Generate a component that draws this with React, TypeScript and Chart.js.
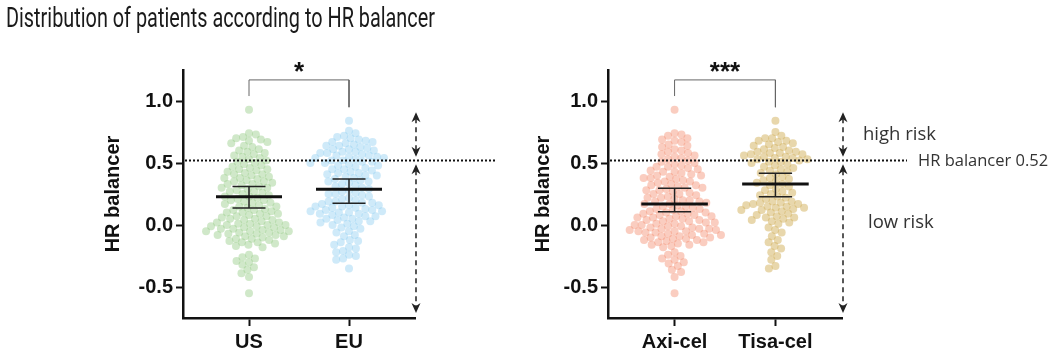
import React, { useEffect, useRef } from 'react';
import { Chart, registerables } from 'chart.js';
Chart.register(...registerables);

const TITLE = 'Distribution of patients according to HR balancer';
const Y_TITLE = 'HR balancer';
const THRESHOLD = 0.52;
const THRESHOLD_LABEL = 'HR balancer 0.52';
const RISK_LABELS = ['high risk', 'low risk'];
const Y_TICKS = [-0.5, 0, 0.5, 1.0];
const Y_MIN = -0.75;
const Y_MAX = 1.25;

const leftCategories = ['US', 'EU'];
const rightCategories = ['Axi-cel', 'Tisa-cel'];

const usValues = [
  0.93,
  0.74, 0.73, 0.71, 0.70,
  0.69, 0.68, 0.67, 0.66, 0.64, 0.63, 0.61, 0.60,
  0.59, 0.58, 0.57, 0.56, 0.55, 0.54, 0.53, 0.52, 0.51, 0.50,
  0.49, 0.48, 0.47, 0.46, 0.45, 0.45, 0.44, 0.43, 0.42, 0.41, 0.41, 0.40,
  0.39, 0.38, 0.38, 0.37, 0.36, 0.35, 0.35, 0.34, 0.33, 0.33, 0.32, 0.31, 0.30, 0.30,
  0.29, 0.28, 0.27, 0.27, 0.26, 0.25, 0.24, 0.23, 0.23, 0.22, 0.21, 0.20, 0.20,
  0.19, 0.18, 0.18, 0.17, 0.16, 0.15, 0.15, 0.14, 0.13, 0.12, 0.12, 0.11, 0.10, 0.10,
  0.09, 0.09, 0.08, 0.07, 0.07, 0.06, 0.05, 0.05, 0.04, 0.04, 0.03, 0.02, 0.02, 0.01, 0.01, 0.00, 0.00, 0.00,
  -0.01, -0.01, -0.02, -0.02, -0.03, -0.03, -0.04, -0.04, -0.05, -0.05, -0.05, -0.06, -0.06, -0.07, -0.07, -0.08, -0.08, -0.09, -0.09, -0.10,
  -0.11, -0.11, -0.12, -0.13, -0.14, -0.14, -0.15, -0.16, -0.17, -0.18,
  -0.24, -0.26, -0.27, -0.29, -0.30, -0.32, -0.34, -0.36, -0.39, -0.42,
  -0.55,
];

const euValues = [
  0.84,
  0.76, 0.74, 0.72, 0.71, 0.70,
  0.69, 0.68, 0.67, 0.67, 0.66, 0.65, 0.64, 0.64, 0.63, 0.62, 0.61, 0.61, 0.60,
  0.59, 0.59, 0.58, 0.58, 0.57, 0.56, 0.56, 0.55, 0.55, 0.54, 0.54, 0.53, 0.52, 0.52, 0.51, 0.51, 0.50, 0.50,
  0.49, 0.48, 0.48, 0.47, 0.46, 0.45, 0.45, 0.44, 0.43, 0.42, 0.42, 0.41, 0.40, 0.40,
  0.39, 0.38, 0.37, 0.36, 0.35, 0.35, 0.34, 0.33, 0.32, 0.31, 0.30,
  0.29, 0.28, 0.27, 0.26, 0.25, 0.25, 0.24, 0.23, 0.22, 0.21, 0.20,
  0.19, 0.19, 0.18, 0.18, 0.17, 0.16, 0.16, 0.15, 0.15, 0.14, 0.14, 0.13, 0.12, 0.12, 0.11, 0.11, 0.10, 0.10,
  0.09, 0.09, 0.08, 0.07, 0.07, 0.06, 0.05, 0.05, 0.04, 0.03, 0.03, 0.02, 0.01, 0.00,
  -0.01, -0.02, -0.03, -0.05, -0.06, -0.08, -0.09,
  -0.12, -0.13, -0.14, -0.16, -0.18, -0.19,
  -0.21, -0.22, -0.24, -0.25, -0.27, -0.28,
  -0.35,
];

const axiValues = [
  0.93,
  0.74, 0.73, 0.72, 0.70,
  0.69, 0.68, 0.67, 0.65, 0.64, 0.63, 0.61, 0.60,
  0.59, 0.58, 0.57, 0.56, 0.55, 0.54, 0.53, 0.52, 0.51, 0.50,
  0.49, 0.48, 0.47, 0.47, 0.46, 0.45, 0.44, 0.43, 0.43, 0.42, 0.41, 0.40, 0.40,
  0.39, 0.38, 0.38, 0.37, 0.36, 0.35, 0.35, 0.34, 0.33, 0.32, 0.32, 0.31, 0.30, 0.30,
  0.29, 0.28, 0.28, 0.27, 0.26, 0.25, 0.25, 0.24, 0.23, 0.22, 0.22, 0.21, 0.20, 0.20,
  0.19, 0.19, 0.18, 0.17, 0.17, 0.16, 0.15, 0.15, 0.14, 0.13, 0.13, 0.12, 0.11, 0.11, 0.10, 0.10,
  0.09, 0.09, 0.08, 0.08, 0.07, 0.07, 0.06, 0.06, 0.05, 0.05, 0.04, 0.04, 0.03, 0.03, 0.02, 0.02, 0.01, 0.01, 0.00, 0.00,
  -0.01, -0.01, -0.02, -0.02, -0.03, -0.03, -0.03, -0.04, -0.04, -0.05, -0.05, -0.05, -0.06, -0.06, -0.07, -0.07, -0.08, -0.08, -0.09, -0.09, -0.10, -0.10,
  -0.11, -0.11, -0.12, -0.12, -0.13, -0.14, -0.14, -0.15, -0.16, -0.16, -0.17, -0.18,
  -0.22, -0.24, -0.25, -0.27, -0.28, -0.30, -0.31, -0.33, -0.36, -0.38, -0.42,
  -0.55,
];

const tisaValues = [
  0.84,
  0.75, 0.72, 0.70, 0.70,
  0.68, 0.68, 0.67, 0.66, 0.65, 0.64, 0.63, 0.62, 0.61, 0.60,
  0.59, 0.59, 0.58, 0.58, 0.57, 0.57, 0.56, 0.55, 0.55, 0.54, 0.54, 0.53, 0.53, 0.52, 0.51, 0.51, 0.50,
  0.49, 0.48, 0.47, 0.46, 0.45, 0.44, 0.43, 0.42, 0.41,
  0.39, 0.38, 0.37, 0.36, 0.35, 0.34, 0.33, 0.32, 0.31,
  0.29, 0.28, 0.27, 0.26, 0.25, 0.24, 0.23, 0.22, 0.21,
  0.19, 0.19, 0.18, 0.18, 0.17, 0.17, 0.16, 0.15, 0.15, 0.14, 0.14, 0.13, 0.12, 0.12, 0.11, 0.10,
  0.09, 0.08, 0.07, 0.06, 0.06, 0.05, 0.04, 0.03, 0.02, 0.01,
  -0.02, -0.04, -0.06, -0.09,
  -0.12, -0.14, -0.17, -0.19,
  -0.22, -0.25, -0.28,
  -0.33, -0.35,
];

const leftMeans = [0.228, 0.288];
const leftLow = [0.137, 0.175];
const leftHigh = [0.31, 0.37];
const rightMeans = [0.169, 0.33];
const rightLow = [0.107, 0.228];
const rightHigh = [0.296, 0.417];

const leftStars = '*';
const rightStars = '***';
const BRACKET_TOP = 1.17;
const BRACKET_LEGS = [1.04, 0.95];
const UPPER_ARROW = [0.91, 0.55];
const LOWER_ARROW = [0.49, -0.71];
const LOW_RISK_AT = 0.02;

const FONT = '"Liberation Sans", Arial, sans-serif';

function beeswarm(ypx: number[], D: number): number[] {
  const order = ypx.map((_, i) => i).sort((a, b) => ypx[a] - ypx[b]);
  const placed: { x: number; y: number }[] = [];
  const out: number[] = new Array(ypx.length).fill(0);
  order.forEach((idx, k) => {
    const y = ypx[idx];
    const cands = [0];
    for (const p of placed) {
      const dy = Math.abs(p.y - y);
      if (dy < D) {
        const o = Math.sqrt(D * D - dy * dy);
        cands.push(p.x + o, p.x - o);
      }
    }
    cands.sort((a, b) => Math.abs(a) - Math.abs(b) || (k % 2 ? a - b : b - a));
    let best = 0;
    for (const c of cands) {
      if (placed.every((p) => (p.x - c) ** 2 + (p.y - y) ** 2 >= D * D - 0.01)) {
        best = c;
        break;
      }
    }
    placed.push({ x: best, y });
    out[idx] = best;
  });
  return out;
}

function lineDs(data: { x: number; y: number }[], color: string, width: number) {
  return {
    type: 'scatter',
    data,
    showLine: true,
    pointRadius: 0,
    borderColor: color,
    borderWidth: width,
    backgroundColor: color,
    fill: false,
    order: 0,
    borderCapStyle: 'butt',
  };
}

function arrowHead(ctx: CanvasRenderingContext2D, x: number, y: number, dir: number) {
  ctx.beginPath();
  ctx.moveTo(x, y);
  ctx.lineTo(x - 4.5, y - dir * 10);
  ctx.lineTo(x, y - dir * 7);
  ctx.lineTo(x + 4.5, y - dir * 10);
  ctx.closePath();
  ctx.fill();
}

function dashedArrow(ctx: CanvasRenderingContext2D, x: number, y1: number, y2: number) {
  ctx.save();
  ctx.setLineDash([5, 4]);
  ctx.lineWidth = 1.5;
  ctx.strokeStyle = '#222';
  ctx.beginPath();
  ctx.moveTo(x, y1 + 6);
  ctx.lineTo(x, y2 - 6);
  ctx.stroke();
  ctx.setLineDash([]);
  ctx.fillStyle = '#222';
  arrowHead(ctx, x, y1, -1);
  arrowHead(ctx, x, y2, 1);
  ctx.restore();
}

type PanelCfg = {
  left: number;
  width: number;
  padLeft: number;
  axisWidth: number;
  padRight: number;
  categories: string[];
  groups: number[][];
  colors: string[];
  means: number[];
  low: number[];
  high: number[];
  stars: string;
  dottedExt: number;
  riskText: boolean;
};

function Panel({ cfg }: { cfg: PanelCfg }) {
  const ref = useRef<HTMLCanvasElement>(null);
  useEffect(() => {
    const canvas = ref.current!;
    const datasets: any[] = [];
    cfg.means.forEach((m, i) => {
      datasets.push(lineDs([{ x: i - 0.33, y: m }, { x: i + 0.33, y: m }], '#111', 3));
      datasets.push(lineDs([{ x: i, y: cfg.low[i] }, { x: i, y: cfg.high[i] }], '#222', 1.5));
      datasets.push(lineDs([{ x: i - 0.165, y: cfg.high[i] }, { x: i + 0.165, y: cfg.high[i] }], '#222', 1.5));
      datasets.push(lineDs([{ x: i - 0.165, y: cfg.low[i] }, { x: i + 0.165, y: cfg.low[i] }], '#222', 1.5));
    });
    datasets.push(
      lineDs(
        [
          { x: 0, y: BRACKET_LEGS[0] },
          { x: 0, y: BRACKET_TOP },
          { x: 1, y: BRACKET_TOP },
          { x: 1, y: BRACKET_LEGS[1] },
        ],
        '#666',
        1
      )
    );
    const scatterStart = datasets.length;
    cfg.groups.forEach((vals, i) => {
      datasets.push({
        type: 'scatter',
        data: vals.map((v) => ({ x: i, y: v })),
        backgroundColor: cfg.colors[i],
        borderWidth: 0,
        pointRadius: 4,
        order: 1,
      });
    });

    const overlay = {
      id: 'overlay',
      afterDraw(chart: any) {
        const { ctx, chartArea: a, scales } = chart;
        const ys = scales.y;
        const xs = scales.x;
        ctx.save();
        const ty = ys.getPixelForValue(THRESHOLD);
        ctx.setLineDash([2, 2]);
        ctx.lineWidth = 2;
        ctx.strokeStyle = '#111';
        ctx.beginPath();
        ctx.moveTo(a.left + 2, ty);
        ctx.lineTo(a.right + cfg.dottedExt, ty);
        ctx.stroke();
        ctx.setLineDash([]);
        const ax = a.right + 1;
        dashedArrow(ctx, ax, ys.getPixelForValue(UPPER_ARROW[0]), ys.getPixelForValue(UPPER_ARROW[1]));
        dashedArrow(ctx, ax, ys.getPixelForValue(LOWER_ARROW[0]), ys.getPixelForValue(LOWER_ARROW[1]));
        ctx.fillStyle = '#111';
        ctx.font = `bold 26px ${FONT}`;
        ctx.textAlign = 'center';
        ctx.textBaseline = 'alphabetic';
        ctx.fillText(cfg.stars, xs.getPixelForValue(0.5), a.top + 10);
        if (cfg.riskText) {
          ctx.fillStyle = '#333';
          ctx.textAlign = 'left';
          ctx.textBaseline = 'middle';
          ctx.font = '18.5px "Open Sans", sans-serif';
          const hy = (ys.getPixelForValue(UPPER_ARROW[0]) + ys.getPixelForValue(UPPER_ARROW[1])) / 2;
          ctx.fillText(RISK_LABELS[0], a.right + 21, hy);
          ctx.fillText(RISK_LABELS[1], a.right + 26, ys.getPixelForValue(LOW_RISK_AT));
          ctx.font = '16.5px "Open Sans", sans-serif';
          ctx.fillText(THRESHOLD_LABEL, a.right + 76, ty + 1);
        }
        ctx.restore();
      },
    };

    const tickFont = { family: FONT, size: 20, weight: 'bold' as const };
    const chart = new Chart(canvas, {
      type: 'scatter',
      data: { datasets },
      options: {
        animation: false,
        responsive: false,
        events: [],
        layout: { padding: { left: cfg.padLeft, right: cfg.padRight, top: 70, bottom: 0 } },
        plugins: { legend: { display: false }, tooltip: { enabled: false } },
        scales: {
          x: {
            type: 'linear',
            min: -0.66,
            max: 1.66,
            afterBuildTicks: (s: any) => {
              s.ticks = cfg.categories.map((_, i) => ({ value: i }));
            },
            afterFit: (s: any) => {
              s.height = 38;
            },
            ticks: {
              callback: (v: any) => cfg.categories[Math.round(Number(v))],
              font: tickFont,
              color: '#111',
              padding: 4,
              autoSkip: false,
              maxRotation: 0,
            },
            grid: { display: true, drawOnChartArea: false, drawTicks: true, tickLength: 8, tickWidth: 2, tickColor: '#111' },
            border: { display: true, color: '#111', width: 2.5 },
          },
          y: {
            type: 'linear',
            min: Y_MIN,
            max: Y_MAX,
            afterBuildTicks: (s: any) => {
              s.ticks = Y_TICKS.map((v) => ({ value: v }));
            },
            afterFit: (s: any) => {
              s.width = cfg.axisWidth;
            },
            ticks: {
              callback: (v: any) => Number(v).toFixed(1),
              font: tickFont,
              color: '#111',
              padding: 3,
            },
            grid: { display: true, drawOnChartArea: false, drawTicks: true, tickLength: 7, tickWidth: 2, tickColor: '#111' },
            border: { display: true, color: '#111', width: 2.5 },
            title: { display: true, text: Y_TITLE, font: tickFont, color: '#111', padding: { top: 0, bottom: 0 } },
          },
        },
      } as any,
      plugins: [overlay],
    });

    const xs: any = chart.scales.x;
    const ys: any = chart.scales.y;
    const pxX = xs.getPixelForValue(1) - xs.getPixelForValue(0);
    cfg.groups.forEach((vals, gi) => {
      const offs = beeswarm(vals.map((v) => ys.getPixelForValue(v)), 7);
      (chart.data.datasets[scatterStart + gi] as any).data = vals.map((v, k) => ({ x: gi + offs[k] / pxX, y: v }));
    });
    chart.update('none');

    return () => chart.destroy();
  }, [cfg]);
  return (
    <canvas
      ref={ref}
      width={cfg.width}
      height={356}
      style={{ position: 'absolute', left: cfg.left, top: 0, width: cfg.width, height: 356 }}
    />
  );
}

const leftCfg: PanelCfg = {
  left: 0,
  width: 520,
  padLeft: 101,
  axisWidth: 82,
  padRight: 105,
  categories: leftCategories,
  groups: [usValues, euValues],
  colors: ['rgba(150,205,135,0.45)', 'rgba(140,205,240,0.42)'],
  means: leftMeans,
  low: leftLow,
  high: leftHigh,
  stars: leftStars,
  dottedExt: 82,
  riskText: false,
};

const rightCfg: PanelCfg = {
  left: 520,
  width: 535,
  padLeft: 11,
  axisWidth: 77,
  padRight: 213,
  categories: rightCategories,
  groups: [axiValues, tisaValues],
  colors: ['rgba(242,135,105,0.42)', 'rgba(210,175,90,0.5)'],
  means: rightMeans,
  low: rightLow,
  high: rightHigh,
  stars: rightStars,
  dottedExt: 65,
  riskText: true,
};

export default function App() {
  return (
    <div style={{ position: 'absolute', left: 0, top: 0, width: 1055, height: 356, background: '#fff' }}>
      <Panel cfg={leftCfg} />
      <Panel cfg={rightCfg} />
      <svg width={1055} height={45} style={{ position: 'absolute', left: 0, top: 0 }}>
        <text x={6} y={27} fontFamily="Roboto, sans-serif" fontSize={28} textLength={429} lengthAdjust="spacingAndGlyphs" fill="#1a1a1a">
          {TITLE}
        </text>
      </svg>
    </div>
  );
}
